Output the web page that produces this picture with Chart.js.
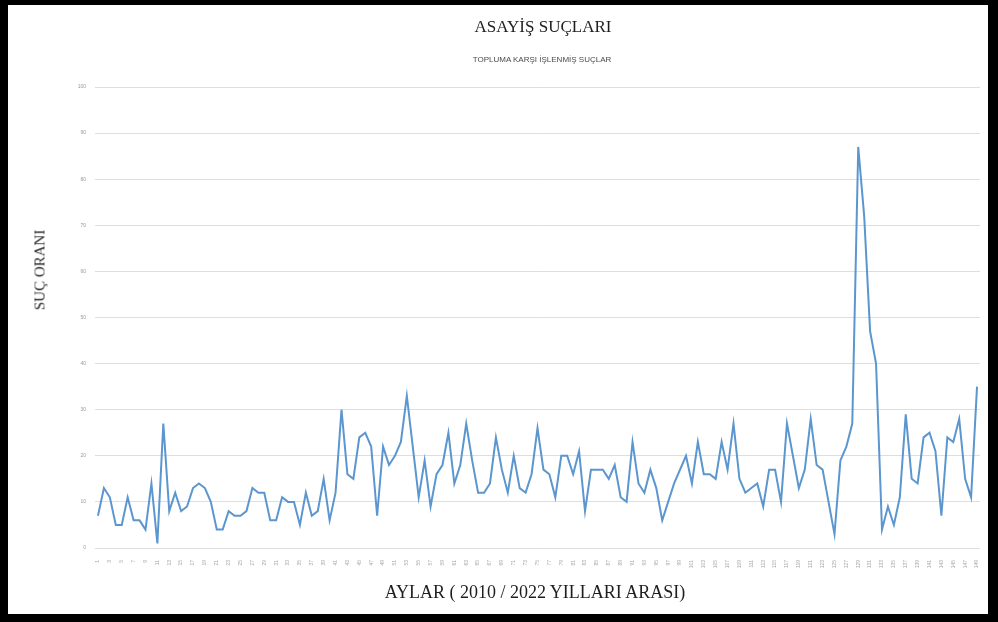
<!DOCTYPE html>
<html>
<head>
<meta charset="utf-8">
<script src="https://cdn.jsdelivr.net/npm/chart.js@4.4.1/dist/chart.umd.min.js"></script>
<style>
  html, body { margin: 0; padding: 0; background: #000; width: 998px; height: 622px; overflow: hidden; }
  #box { position: absolute; left: 8px; top: 5px; width: 980px; height: 609px; background: #fff; }
  #chart { position: absolute; left: 0; top: 0; }
  .txt { position: absolute; white-space: nowrap; color: #1e1e1e; font-family: "Liberation Serif", "DejaVu Serif", serif; }
  #title { left: 543px; top: 17px; transform: translateX(-50%); font-size: 17px; }
  #subtitle { left: 542px; top: 55px; transform: translateX(-50%); font-size: 8px; color: #4a4a4a; font-family: "Liberation Sans", sans-serif; }
  #ytitle { left: 40px; top: 270px; transform: translate(-50%, -50%) rotate(-90deg); font-size: 15px; }
  #xtitle { left: 535px; top: 582px; transform: translateX(-50%); font-size: 18px; }
</style>
</head>
<body>
<div id="box"></div>
<canvas id="chart" width="998" height="622"></canvas>
<div class="txt" id="title">ASAYİŞ SUÇLARI</div>
<div class="txt" id="subtitle">TOPLUMA KARŞI İŞLENMİŞ SUÇLAR</div>
<div class="txt" id="ytitle">SUÇ ORANI</div>
<div class="txt" id="xtitle">AYLAR ( 2010 / 2022 YILLARI ARASI)</div>
<script>
// monthly values (1..149)
const values = [
    7, 13, 11, 5, 5, 11, 6, 6, 4, 14,
    1, 27, 8, 12, 8, 9, 13, 14, 13, 10,
    4, 4, 8, 7, 7, 8, 13, 12, 12, 6,
    6, 11, 10, 10, 5, 12, 7, 8, 15, 6,
    12, 30, 16, 15, 24, 25, 22, 7, 22, 18,
    20, 23, 33, 22, 11, 19, 9, 16, 18, 25,
    14, 18, 27, 19, 12, 12, 14, 24, 17, 12,
    20, 13, 12, 16, 26, 17, 16, 11, 20, 20,
    16, 21, 8, 17, 17, 17, 15, 18, 11, 10,
    23, 14, 12, 17, 13, 6, 10, 14, 17, 20,
    14, 23, 16, 16, 15, 23, 17, 27, 15, 12,
    13, 14, 9, 17, 17, 10, 27, 20, 13, 17,
    28, 18, 17, 10, 3, 19, 22, 27, 87, 72,
    47, 40, 4, 9, 5, 11, 29, 15, 14, 24,
    25, 21, 7, 24, 23, 28, 15, 11, 35
];

// month numbers on the category axis
const months = [];
for (let i = 1; i <= values.length; i++) months.push(String(i));

const yMin = 0;
const yMax = 100;
const yStep = 10;

const ctx = document.getElementById('chart').getContext('2d');

new Chart(ctx, {
    type: 'line',
    data: {
        labels: months,
        datasets: [{
            label: 'Suç oranı',
            data: values,
            borderColor: '#5B96CF',
            borderWidth: 2,
            pointRadius: 0,
            tension: 0,
            fill: false
        }]
    },
    options: {
        responsive: false,
        animation: false,
        layout: { padding: { left: 0, top: 87, right: 18, bottom: 0 } },
        plugins: {
            legend: { display: false },
            tooltip: { enabled: false }
        },
        scales: {
            x: {
                offset: true,
                grid: { display: false },
                border: { display: false },
                ticks: {
                    autoSkip: false,
                    minRotation: 90,
                    maxRotation: 90,
                    padding: 4,
                    color: '#a6a6a6',
                    font: { family: 'Liberation Sans', size: 5 },
                    callback: function (val, i) {
                        return i % 2 === 0 ? this.getLabelForValue(val) : '';
                    }
                },
                afterFit: (scale) => { scale.height = 74; }
            },
            y: {
                min: yMin,
                max: yMax,
                grid: { color: '#dedede', lineWidth: 1, drawTicks: false },
                border: { display: false },
                ticks: {
                    stepSize: yStep,
                    padding: 9,
                    color: '#9a9a9a',
                    font: { family: 'Liberation Sans', size: 5 }
                },
                afterFit: (scale) => { scale.width = 95; }
            }
        }
    }
});
</script>
</body>
</html>
